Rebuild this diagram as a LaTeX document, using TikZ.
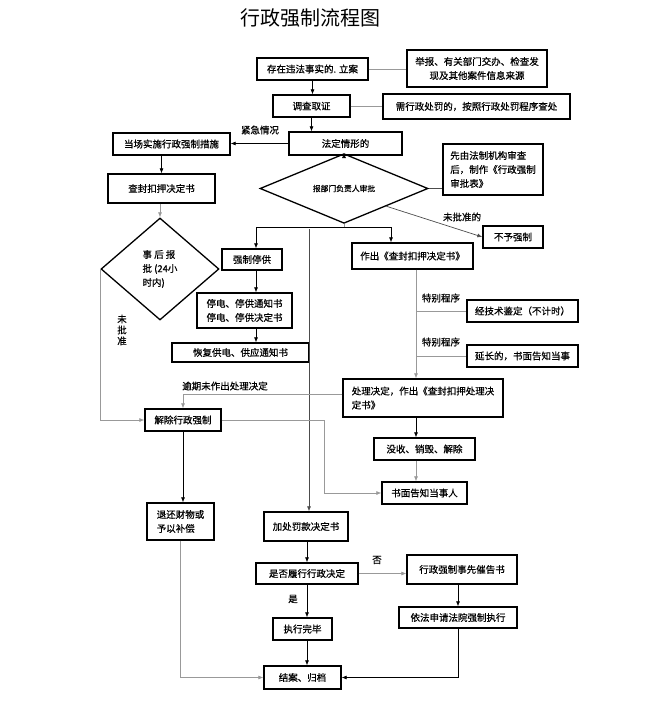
\documentclass[tikz,border=0pt]{standalone}
\usepackage{fontspec}
\setmainfont{Noto Sans CJK SC}[BoldFont={Noto Sans CJK SC},BoldFeatures={FakeBold=0.6}]
\usetikzlibrary{shapes.geometric,arrows.meta,calc}
\newcommand{\boxfont}{\fontsize{9.5pt}{14pt}\bfseries\selectfont}
\newcommand{\smallboxfont}{\fontsize{7.8pt}{10pt}\bfseries\selectfont}

\begin{document}
\begin{tikzpicture}[x=1pt,y=-1pt,
  box/.style={draw,line width=1.3pt,inner sep=0pt,font=\boxfont,align=center},
  pan/.style={draw,line width=1.3pt,diamond,inner sep=0pt,font=\boxfont},
  conn/.style={line width=0.7pt},
  gline/.style={line width=0.7pt,black!40},
  arr/.style={-{Latex[length=5pt,width=4pt]}},
  lbl/.style={font=\boxfont,inner sep=0pt}]
\useasboundingbox (0,0) rectangle (664,711);
\node[font=\fontsize{20pt}{24pt}\selectfont] (title) at (310,18) {行政强制流程图};
\node[box,minimum width=111,minimum height=22] (lian) at (312.5,69) {存在违法事实的. 立案};
\node[box,minimum width=140,minimum height=37] (laiyuan) at (477,68.5) {举报、有关部门交办、检查发\\现及其他案件信息来源};
\node[box,minimum width=77,minimum height=22] (diaocha) at (311.5,106) {调查取证};
\node[box,minimum width=187,minimum height=25] (chufa) at (476.5,106.5) {需行政处罚的，按照行政处罚程序查处};
\node[box,minimum width=113,minimum height=23] (fading) at (345.5,143.5) {法定情形的};
\node[box,minimum width=117,minimum height=22] (cuoshi) at (171.5,144) {当场实施行政强制措施};
\node[box,minimum width=107,minimum height=29] (jueding) at (161.5,188.5) {查封扣押决定书};
\node[pan,font=\smallboxfont,minimum width=168,minimum height=51] (shenpi) at (344,188.5) {报部门负责人审批};
\node[box,align=left,minimum width=100,minimum height=51] (shencha) at (493,169.5) {先由法制机构审查\\后，制作《行政强制\\审批表》};
\node[box,minimum width=60,minimum height=22] (buyu) at (513,237) {不予强制};
\node[pan,align=left,minimum width=118,minimum height=102] (shibao) at (160,269) {事 后 报\\批 (24小\\时内)};
\node[box,minimum width=60,minimum height=21] (tinggong) at (252,259.5) {强制停供};
\node[box,minimum width=95,minimum height=35] (tongzhi) at (244.5,310.5) {停电、停供通知书\\停电、停供决定书};
\node[box,minimum width=137,minimum height=19] (huifu) at (240.5,352.5) {恢复供电、供应通知书};
\node[box,minimum width=121,minimum height=26] (zuochu) at (412.5,256) {作出《查封扣押决定书》};
\node[box,minimum width=111,minimum height=22] (jianding) at (522.5,311) {经技术鉴定（不计时）};
\node[box,minimum width=111,minimum height=22] (yanchang) at (522.5,356) {延长的，书面告知当事};
\node[box,align=left,minimum width=160,minimum height=38] (chuli) at (423,398) {处理决定，作出《查封扣押处理决\\定书》};
\node[box,minimum width=101,minimum height=22] (moshou) at (424.5,449) {没收、销毁、解除};
\node[box,minimum width=85,minimum height=22] (gaozhi) at (424.5,493) {书面告知当事人};
\node[box,minimum width=76,minimum height=22] (jiechu) at (183,420) {解除行政强制};
\node[box,align=left,minimum width=67,minimum height=37] (tuihuan) at (180.5,521.5) {退还财物或\\予以补偿};
\node[box,minimum width=84,minimum height=29] (fakuan) at (306,526.5) {加处罚款决定书};
\node[box,minimum width=102,minimum height=21] (lvxing) at (307,573.5) {是否履行行政决定};
\node[box,minimum width=59,minimum height=22] (wanbi) at (302.5,629) {执行完毕};
\node[box,minimum width=77,minimum height=23] (jiean) at (302.5,677.5) {结案、归档};
\node[box,minimum width=110,minimum height=29] (cuigao) at (462,569.5) {行政强制事先催告书};
\node[box,minimum width=118,minimum height=21] (fayuan) at (458,617.5) {依法申请法院强制执行};
\node[lbl] (jinji) at (260,130) {紧急情况};
\node[lbl] (weipi) at (462,217) {未批准的};
\node[lbl,align=center,font=\fontsize{9.5pt}{11pt}\bfseries\selectfont] (weipizhun) at (122,330) {未\\批\\准};
\node[lbl] (tebie1) at (441,298) {特别程序};
\node[lbl] (tebie2) at (441,342) {特别程序};
\node[lbl] (yuqi) at (225,386) {逾期未作出处理决定};
\node[lbl] (fou) at (377,560) {否};
\node[lbl] (shi) at (293,599) {是};
\coordinate (fenzhi) at (344,227);
\coordinate (zuo) at (256,227);
\coordinate (you) at (391,227);
\coordinate (zhong) at (309,229);
\coordinate (zhou) at (416,269);
\coordinate (guai) at (324,493);
\draw[gline] (lian.east) -- (lian.east -| laiyuan.west);
\draw[conn,arr] (lian.south) -- (lian.south |- diaocha.north);
\draw[gline] (diaocha.east) -- (diaocha.east -| chufa.west);
\draw[conn,arr] (diaocha.south) -- (diaocha.south |- fading.north);
\draw[conn,arr] (fading.west) -- (fading.west -| cuoshi.east);
\draw[conn,arr] (cuoshi.south -| jueding.north) -- (jueding.north);
\draw[conn,arr] (fading.south -| shenpi.north) -- (shenpi.north);
\draw[conn,black!70] (shenpi.east) -- (shenpi.east -| shencha.west);
\draw[conn,black!70,arr] ($(shenpi.east)!0.5!(shenpi.south)$) -- (buyu.west);
\draw[gline,arr] (jueding.south -| shibao.north) -- (shibao.north);
\draw[gline] (shenpi.south) -- (fenzhi);
\draw[conn,arr] (fenzhi) -- (zuo) -- (zuo |- tinggong.north);
\draw[conn,arr] (fenzhi) -- (you) -- (you |- zuochu.north);
\draw[conn,black!70,arr] (zhong) -- (zhong |- fakuan.north);
\draw[conn,arr] (tinggong.south -| zuo) -- (zuo |- tongzhi.north);
\draw[conn,arr] (tongzhi.south -| zuo) -- (zuo |- huifu.north);
\draw[gline,arr] (zhou |- zuochu.south) -- (zhou |- chuli.north);
\draw[gline] (zhou |- jianding.west) -- (jianding.west);
\draw[gline] (zhou |- yanchang.west) -- (yanchang.west);
\draw[conn,arr] (zhou |- chuli.south) -- (zhou |- moshou.north);
\draw[gline,arr] (zhou |- moshou.south) -- (zhou |- gaozhi.north);
\draw[gline,arr] ([yshift=4pt]chuli.west) -| (jiechu.north);
\draw[gline,arr] (shibao.west) |- (jiechu.west);
\draw[gline,arr] (jiechu.east) -| (guai) -- (gaozhi.west);
\draw[conn,arr] (jiechu.south) -- (jiechu.south |- tuihuan.north);
\draw[gline,arr] (tuihuan.south) |- (jiean.west);
\draw[conn,arr] (fakuan.south -| lvxing.north) -- (lvxing.north);
\draw[gline,arr] (lvxing.east) -- (lvxing.east -| cuigao.west);
\draw[conn,arr] (lvxing.south) -- (lvxing.south |- wanbi.north);
\draw[conn,arr] (wanbi.south -| lvxing.south) -- (lvxing.south |- jiean.north);
\draw[conn,arr] (cuigao.south -| fayuan.north) -- (fayuan.north);
\draw[conn,arr] (fayuan.south) |- (jiean.east);
\end{tikzpicture}
\end{document}
